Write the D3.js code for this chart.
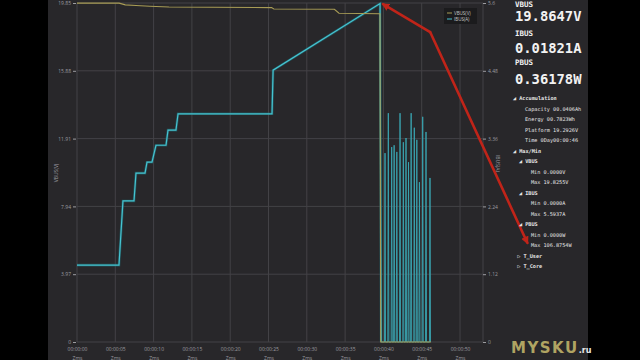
<!DOCTYPE html>
<html><head><meta charset="utf-8">
<script src="https://cdn.jsdelivr.net/npm/d3@7"></script>
<style>
html,body{margin:0;padding:0;background:#000;}
svg{display:block;}
</style></head>
<body>
<script>
// ---- data ----
const xTickSeconds = [0,5,10,15,20,25,30,35,40,45,50];
const xTickLabels = ["00:00:00","00:00:05","00:00:10","00:00:15","00:00:20","00:00:25","00:00:30","00:00:35","00:00:40","00:00:45","00:00:50"];
const xTickSub = "Zms";
const leftTicks = [0,3.97,7.94,11.91,15.88,19.85];
const leftTickLabels = ["0","3.97","7.94","11.91","15.88","19.85"];
const rightTicks = [0,1.12,2.24,3.36,4.48,5.6];
const rightTickLabels = ["0","1.12","2.24","3.36","4.48","5.6"];

// VBUS (V) over time (s)
const vbusTime  = [0,   5.5,  6.3,  7.7,  9.5, 12.0, 25.4, 25.7, 33.6, 34.2, 39.55, 39.65, 46.2];
const vbusValue = [19.84,19.84,19.74,19.70,19.66,19.62,19.58,19.50,19.48,19.25,19.22, 0,     0];

// IBUS (A) over time (s)
const ibusTime  = [0,   5.48, 6.0,  7.44, 7.7,  8.88, 9.14, 9.79, 10.31, 11.62, 11.88, 12.92, 13.19, 25.46, 25.6, 39.56, 39.7];
const ibusValue = [1.27,1.27, 2.33, 2.33, 2.79, 2.79, 2.97, 2.97, 3.25,  3.25,  3.50,  3.50,  3.77,  3.77,  4.49, 5.59,  0];
// pulses after the drop
const pulseTime  = [40.21,40.64,41.08,41.40,41.75,42.17,42.60,42.95,43.28,43.62,44.03,44.36,44.70,45.13,45.56,46.08];
const pulseValue = [3.12, 3.78, 3.22, 3.25, 3.14, 3.78, 3.30, 3.37, 2.97, 3.78, 3.54, 3.34, 2.64, 3.72, 3.47, 2.71];

const legendItems = ["VBUS(V)","IBUS(A)"];

// side panel
const liveLabels = ["VBUS","IBUS","PBUS"];
const liveValues = ["19.8647V","0.01821A","0.36178W"];
const treeRows = [
  [0,"\u25E2 Accumulation"],
  [2,"Capacity 00.0406Ah"],
  [2,"Energy   00.7823Wh"],
  [2,"Platform 19.2926V"],
  [2,"Time  0Day00:00:46"],
  [0,"\u25E2 Max/Min"],
  [1,"\u25E2 VBUS"],
  [3,"Min 0.0000V"],
  [3,"Max 19.8255V"],
  [1,"\u25E2 IBUS"],
  [3,"Min 0.0000A"],
  [3,"Max 5.5937A"],
  [1,"\u25E2 PBUS"],
  [3,"Min 0.0000W"],
  [3,"Max 106.8754W"],
  [0.7,"\u25B7 T_User"],
  [0.7,"\u25B7 T_Core"]
];

// red annotation (time s, VBUS-scale V)
const arrowHub = [46.1, 18.15];
const arrowTipA = [39.95, 19.78];
const arrowTipB = [58.8, 5.8];

// ---- drawing ----
const W=640,H=360;
const svg = d3.select("body").append("svg").attr("width",W).attr("height",H);
svg.append("rect").attr("width",W).attr("height",H).attr("fill","#000");
svg.append("rect").attr("x",48).attr("y",0).attr("width",540).attr("height",H).attr("fill","#28272a");

const x = d3.scaleLinear().domain([0,53]).range([77,483]);
const yL = d3.scaleLinear().domain([0,19.85]).range([342,3]);
const yR = d3.scaleLinear().domain([0,5.6]).range([342,3]);

const gridC = "#434246";
const textC = "#9c9ca0";
const font = "'Open Sans', 'DejaVu Sans', sans-serif";

// grid
const grid = svg.append("g");
grid.selectAll("line.h").data(leftTicks).join("line")
  .attr("x1",x(0)).attr("x2",x(53)).attr("y1",d=>yL(d)).attr("y2",d=>yL(d))
  .attr("stroke",gridC).attr("stroke-width",1);
grid.selectAll("line.v").data(xTickSeconds).join("line")
  .attr("x1",d=>x(d)).attr("x2",d=>x(d)).attr("y1",yL(19.85)).attr("y2",yL(0))
  .attr("stroke",gridC).attr("stroke-width",1);
grid.append("line").attr("x1",x(53)).attr("x2",x(53)).attr("y1",yL(19.85)).attr("y2",yL(0))
  .attr("stroke",gridC);

// axes
const axL = d3.axisLeft(yL).tickValues(leftTicks).tickFormat((d,i)=>leftTickLabels[i]).tickSize(3).tickPadding(2);
const gL = svg.append("g").attr("transform",`translate(${x(0)-1},0)`).call(axL);
const axR = d3.axisRight(yR).tickValues(rightTicks).tickFormat((d,i)=>rightTickLabels[i]).tickSize(3).tickPadding(2);
const gR = svg.append("g").attr("transform",`translate(${x(53)},0)`).call(axR);
[gL,gR].forEach(g=>{
  g.select(".domain").remove();
  g.selectAll("line").attr("stroke",textC);
  g.selectAll("text").attr("fill",textC).style("font-family",font).style("font-size","5px");
});

const axB = d3.axisBottom(x).tickValues(xTickSeconds).tickFormat((d,i)=>xTickLabels[i]).tickSize(0).tickPadding(5);
const gB = svg.append("g").attr("transform",`translate(0,${yL(0)})`).call(axB);
gB.select(".domain").remove();
gB.selectAll("text").attr("fill",textC).style("font-family",font).style("font-size","5px");
gB.selectAll(".tick").append("text").text(xTickSub).attr("y",14).attr("dy","0.71em")
  .attr("fill",textC).attr("text-anchor","middle").style("font-family",font).style("font-size","5px");

// axis titles
svg.append("text").text("VBUS(V)").attr("transform",`translate(58,${yL(9.9)}) rotate(-90)`)
  .attr("text-anchor","middle").attr("fill",textC).style("font-family",font).style("font-size","5px");
svg.append("text").text("IBUS(A)").attr("transform",`translate(496,${yR(2.95)}) rotate(90)`)
  .attr("text-anchor","middle").attr("fill",textC).style("font-family",font).style("font-size","5px");

// lines
const vbusPts = vbusTime.map((t,i)=>[t,vbusValue[i]]);
const ibusPts = ibusTime.map((t,i)=>[t,ibusValue[i]]);
const pulsePts = [[39.7,0]];
pulseTime.forEach((t,i)=>{ pulsePts.push([t-0.07,0],[t,pulseValue[i]],[t+0.07,0]); });

const lineL = d3.line().x(d=>x(d[0])).y(d=>yL(d[1]));
const lineR = d3.line().x(d=>x(d[0])).y(d=>yR(d[1]));

svg.append("path").attr("d",lineR(ibusPts)).attr("fill","none")
  .attr("stroke","#1f6f7a").attr("stroke-width",2.6).attr("opacity",0.6);
svg.append("path").attr("d",lineR(ibusPts)).attr("fill","none")
  .attr("stroke","#46c3d0").attr("stroke-width",1.2);
svg.append("path").attr("d",lineR(pulsePts)).attr("fill","none")
  .attr("stroke","#3aa6b2").attr("stroke-width",0.9);
svg.append("path").attr("d",lineL(vbusPts)).attr("fill","none")
  .attr("stroke","#a89c55").attr("stroke-width",1.1);

// legend
const lg = svg.append("g").attr("transform","translate(444,8)");
lg.append("rect").attr("width",33).attr("height",16).attr("fill","#1b1b1d");
const legColors = ["#a89c55","#46c3d0"];
legendItems.forEach((s,i)=>{
  lg.append("line").attr("x1",3).attr("x2",8).attr("y1",5+i*6).attr("y2",5+i*6).attr("stroke",legColors[i]).attr("stroke-width",1);
  lg.append("text").text(s).attr("x",10).attr("y",5+i*6).attr("dy","0.35em").attr("fill","#c8c8c8")
    .style("font-family",font).style("font-size","4.5px");
});

// red annotation arrows
const defs = svg.append("defs");
defs.append("marker").attr("id","ah").attr("viewBox","0 0 10 10").attr("refX",8).attr("refY",5)
  .attr("markerWidth",3).attr("markerHeight",3).attr("orient","auto")
  .append("path").attr("d","M0,0 L10,5 L0,10 z").attr("fill","#c02419");
[arrowTipA,arrowTipB].forEach(tip=>{
  svg.append("line").attr("x1",x(arrowHub[0])).attr("y1",yL(arrowHub[1]))
    .attr("x2",x(tip[0])).attr("y2",yL(tip[1]))
    .attr("stroke","#c02419").attr("stroke-width",2.6).attr("stroke-linecap","round")
    .attr("marker-end","url(#ah)");
});

// side panel
const mono = "'DejaVu Sans Mono', 'Liberation Mono', monospace";
const lv = svg.append("g");
liveLabels.forEach((s,i)=>{
  lv.append("text").text(s).attr("x",515).attr("y",6.5+i*29).attr("fill","#f2f2f2")
    .style("font-family",mono).style("font-weight","bold").style("font-size","7.5px");
  lv.append("text").text(liveValues[i]).attr("x",515).attr("y",21+i*31.5).attr("fill","#f2f2f2")
    .style("font-family",mono).style("font-weight","bold").style("font-size","13.8px");
});
const tr = svg.append("g");
treeRows.forEach((r,i)=>{
  tr.append("text").text(r[1]).attr("x",513+r[0]*6).attr("y",100+i*10.5).attr("fill","#e6e6e6")
    .style("font-family",mono).style("font-weight", r[0]<2 ? "bold":"normal").style("font-size","5.2px");
});

// watermark
const wm = svg.append("text").attr("x",511).attr("y",353).style("font-family","'DejaVu Sans', sans-serif");
wm.append("tspan").text("MYSKU").attr("fill","#b0a462").style("font-weight","bold").style("font-size","15px").style("letter-spacing","1.5px");
wm.append("tspan").text(".ru").attr("fill","#e8e8e8").style("font-weight","bold").style("font-size","8px");
</script>
</body></html>
